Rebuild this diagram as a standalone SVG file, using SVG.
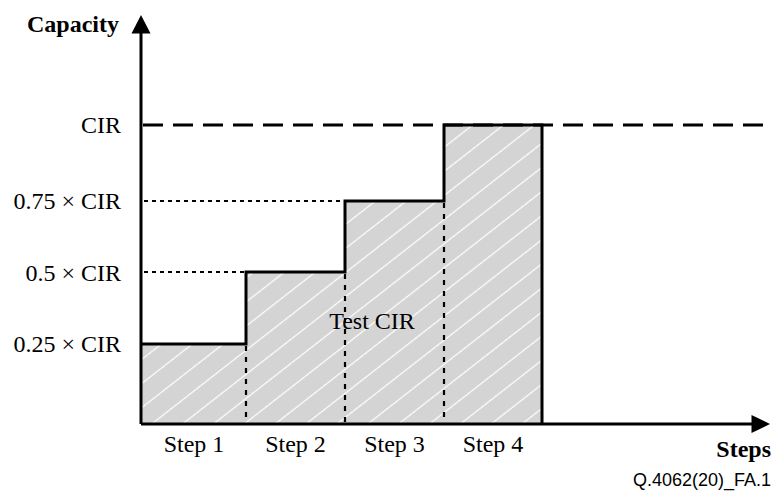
<svg xmlns="http://www.w3.org/2000/svg" width="774" height="493" viewBox="0 0 774 493">
  <style>
    .lbl { font-family: "Liberation Serif", "Times New Roman", serif; font-size: 24px; fill: #000; }
    .bold { font-weight: bold; }
    .axis { stroke: #000; stroke-width: 3; fill: none; }
    .outline { stroke: #000; stroke-width: 3; fill: none; stroke-linejoin: miter; }
    .dash { stroke: #000; stroke-width: 3; stroke-dasharray: 20 10; fill: none; }
    .doth { stroke: #000; stroke-width: 1.8; stroke-dasharray: 4 4; fill: none; }
    .dotv { stroke: #000; stroke-width: 2.2; stroke-dasharray: 5 6; fill: none; }
  </style>
  <defs>
    <pattern id="hatch" patternUnits="userSpaceOnUse" width="19" height="19" patternTransform="rotate(-38)">
      <rect width="19" height="19" fill="#d4d4d4"/>
      <line x1="0" y1="9.5" x2="19" y2="9.5" stroke="#fff" stroke-width="1.2"/>
    </pattern>
  </defs>

  <rect width="774" height="493" fill="#fff"/>

  <!-- shaded test capacity area -->
  <g id="area">
    <path d="M141,424 V344 H246 V272 H345 V201 H444 V125 H542 V424 Z" fill="url(#hatch)"/>
  </g>

  <!-- reference level guides -->
  <g id="guides">
    <line class="dash" x1="143" y1="125" x2="770" y2="125"/>
    <line class="doth" x1="144" y1="201" x2="345" y2="201"/>
    <line class="doth" x1="144" y1="272" x2="246" y2="272"/>
    <line class="dotv" x1="246" y1="346" x2="246" y2="424"/>
    <line class="dotv" x1="345" y1="274" x2="345" y2="424"/>
    <line class="dotv" x1="444" y1="203" x2="444" y2="424"/>
  </g>

  <!-- staircase outline -->
  <g id="staircase">
    <path class="outline" d="M141,344 H246 V272 H345 V201 H444 V125 H542 V424"/>
  </g>

  <!-- axes -->
  <g id="axes">
    <line class="axis" x1="141" y1="424" x2="141" y2="30"/>
    <polygon points="141,15 131.5,33.5 150.5,33.5" fill="#000"/>
    <line class="axis" x1="141" y1="424" x2="755" y2="424"/>
    <polygon points="770,424 751.5,415 751.5,433" fill="#000"/>
  </g>

  <!-- axis titles and level labels -->
  <g id="labels">
    <text class="lbl bold" x="27" y="32">Capacity</text>
    <text class="lbl bold" x="771" y="457" text-anchor="end">Steps</text>
    <text class="lbl" x="121" y="133" text-anchor="end">CIR</text>
    <text class="lbl" x="121" y="209" text-anchor="end">0.75 × CIR</text>
    <text class="lbl" x="121" y="281" text-anchor="end">0.5 × CIR</text>
    <text class="lbl" x="121" y="352" text-anchor="end">0.25 × CIR</text>
    <text class="lbl" x="372" y="329" text-anchor="middle">Test CIR</text>
    <text class="lbl" x="194" y="452" text-anchor="middle">Step 1</text>
    <text class="lbl" x="295.5" y="452" text-anchor="middle">Step 2</text>
    <text class="lbl" x="394.5" y="452" text-anchor="middle">Step 3</text>
    <text class="lbl" x="493" y="452" text-anchor="middle">Step 4</text>
    <text x="771" y="486" text-anchor="end" font-family="'Liberation Sans', Arial, sans-serif" font-size="18" fill="#000">Q.4062(20)_FA.1</text>
  </g>
</svg>
